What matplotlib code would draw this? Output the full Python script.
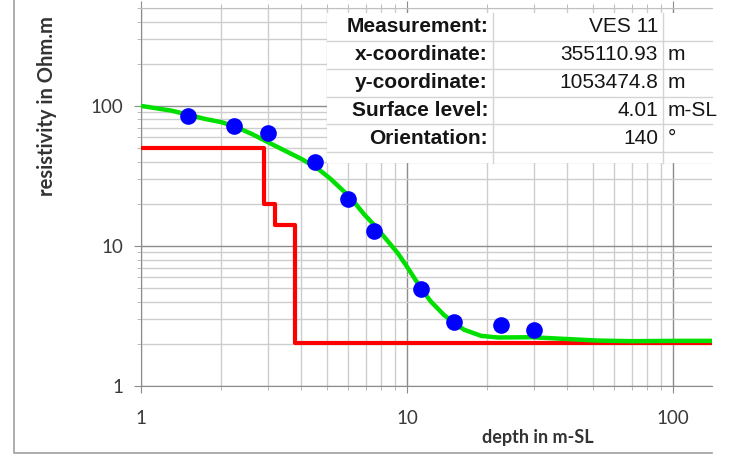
import numpy as np
import matplotlib.pyplot as plt
from matplotlib.patches import Rectangle
from matplotlib.lines import Line2D
from matplotlib.ticker import LogLocator, NullFormatter, FixedFormatter, FixedLocator

# measured apparent resistivity (blue dots)
meas_depth = [1.5, 2.24, 3.0, 4.5, 6.0, 7.5, 11.3, 15.0, 22.6, 30.0]
meas_rho = [84, 72, 64, 39.5, 21.5, 12.8, 4.96, 2.87, 2.74, 2.52]

# computed response curve (green)
fit_depth = [1, 1.3, 1.5, 1.74, 2.01, 2.26, 2.61, 3.01, 3.48, 4.02, 4.65, 5.17, 6.0,
             6.43, 6.9, 7.5, 8.0, 9.22, 10, 11.3, 12.3, 13.8, 15, 16.4, 19.0, 22.0,
             29.4, 39, 52.3, 70, 100, 140]
fit_rho = [100, 92.5, 86.6, 80.7, 76.4, 71.1, 63, 54.9, 47.8, 41.7, 35.3, 30, 23,
           19.8, 16.8, 14.2, 12.3, 8.9, 7.1, 4.95, 4.0, 3.2, 2.83, 2.52, 2.28, 2.22,
           2.23, 2.17, 2.11, 2.09, 2.1, 2.1]

# layered model (red)
layer_top = [1, 2.9, 3.2, 3.8, 140]
layer_rho = [50, 20, 14, 2.03, 2.03]

# info table
info_labels = ["Measurement:", "x-coordinate:", "y-coordinate:", "Surface level:", "Orientation:"]
info_values = ["VES 11", "355110.93", "1053474.8", "4.01", "140"]
info_units = ["", "m", "m", "m-SL", "°"]

W, H = 731, 455


def px(x, y):
    return x / W, 1 - y / H


fig = plt.figure(figsize=(W / 100, H / 100), dpi=100)
l, t = px(141, 8)
r, b = px(712, 386)
ax = fig.add_axes([l, b, r - l, t - b])

ax.set_xscale('log')
ax.set_yscale('log')
ax.set_xlim(1, 140)
ax.set_ylim(1, 500)

ax.grid(True, which='major', color='#8c8c8c', lw=1)
ax.grid(True, which='minor', color='#cdcdcd', lw=1)
ax.set_axisbelow(True)

ax.step(layer_top, layer_rho, where='post', color='#ff0000', lw=3, zorder=3)
ax.plot(fit_depth, fit_rho, color='#00e000', lw=3.2, zorder=4, solid_joinstyle='round')
ax.plot(meas_depth, meas_rho, 'o', color='#0000ff', ms=12, mec='none', zorder=5)

ax.xaxis.set_major_locator(FixedLocator([1, 10, 100]))
ax.xaxis.set_major_formatter(FixedFormatter(['1', '10', '100']))
ax.yaxis.set_major_locator(FixedLocator([1, 10, 100]))
ax.yaxis.set_major_formatter(FixedFormatter(['1', '10', '100']))
ax.xaxis.set_minor_locator(LogLocator(subs=np.arange(2, 10)))
ax.yaxis.set_minor_locator(LogLocator(subs=np.arange(2, 10)))
ax.xaxis.set_minor_formatter(NullFormatter())
ax.yaxis.set_minor_formatter(NullFormatter())

for lab in ax.get_xticklabels() + ax.get_yticklabels():
    lab.set_fontfamily('Lato')
    lab.set_fontsize(13.5)
    lab.set_color('#3a3a3a')
ax.tick_params(axis='both', which='major', length=5, color='#8c8c8c')
ax.tick_params(axis='x', which='major', pad=12)
ax.tick_params(axis='y', which='major', pad=8)
ax.tick_params(axis='both', which='minor', length=3, color='#b0b0b0')
ax.tick_params(axis='x', which='both', top=True)

for side in ['left', 'bottom']:
    ax.spines[side].set_color('#8c8c8c')
ax.spines['top'].set_color('#c0c0c0')
ax.spines['right'].set_visible(False)

ax.set_ylabel('resistivity in Ohm.m', fontfamily='Lato', fontweight='bold', fontsize=14.5,
              color='#333333', va='center')
ax.yaxis.set_label_coords((47 - 141) / 571, (386 - 106) / 378)
ax.set_xlabel('depth in m-SL', fontfamily='Lato', fontweight='bold', fontsize=13,
              color='#333333', va='center')
ax.xaxis.set_label_coords((538 - 141) / 571, (386 - 438) / 378)

# info table box
x0, y0 = px(327, 163)
x1, y1 = px(712, 13)
fig.add_artist(Rectangle((x0, y0), x1 - x0, y1 - y0, transform=fig.transFigure,
                         facecolor='white', edgecolor='none', zorder=6))
grid_c = '#d4d4d4'
for yy in [41, 69, 97, 124, 152]:
    fig.add_artist(Line2D([x0, x1], [px(0, yy)[1]] * 2, transform=fig.transFigure,
                          color=grid_c, lw=1, zorder=7))
for xx in [493, 663]:
    fig.add_artist(Line2D([px(xx, 0)[0]] * 2, [y0, y1], transform=fig.transFigure,
                          color=grid_c, lw=1, zorder=7))

row_y = [27, 55, 83, 110.5, 138]
for i in range(len(info_labels)):
    fig.text(*px(488, row_y[i]), info_labels[i], ha='right', va='center', family='Liberation Sans',
             fontweight='bold', fontsize=15, color='#151515', zorder=8)
    fig.text(*px(658, row_y[i]), info_values[i], ha='right', va='center', family='Liberation Sans',
             fontsize=15, color='#151515', zorder=8)
    fig.text(*px(668, row_y[i]), info_units[i], ha='left', va='center', family='Liberation Sans',
             fontsize=15, color='#151515', zorder=8)

# chart border (left and bottom visible)
bx0, by0 = px(14, 0)
bx1, by1 = px(712, 453)
fig.add_artist(Line2D([bx0, bx0, bx1], [by0, by1, by1], transform=fig.transFigure,
                      color='#a0a0a0', lw=1.2))

fig.savefig('out.png', dpi=100)
